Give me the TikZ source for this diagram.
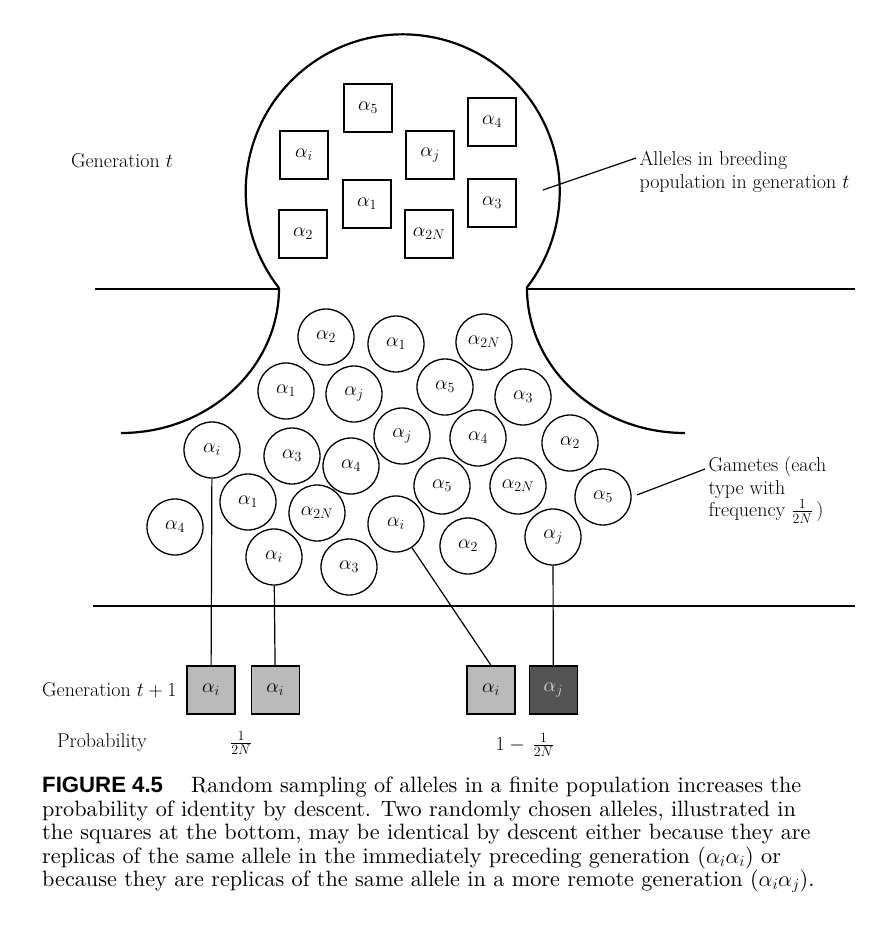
\RequirePackage{fix-cm}
\documentclass[tikz,border=0pt]{standalone}
\usepackage{amsmath}
\usepackage{fontspec}
\usepackage{tikz}
\usetikzlibrary{positioning}
\newfontfamily\figlabelfont{Liberation Sans}
\newfontfamily\captiontext{lmroman10-regular.otf}

\begin{document}
\begin{tikzpicture}
[x=1pt,y=-1pt,
font=\fontsize{20}{22.5}\selectfont,
wall/.style={line width=2.2pt},
rim/.style={line width=1.5pt},
allele/.style={draw, line width=1.3pt, minimum size=48pt, inner sep=0pt},
gamete/.style={draw, circle, line width=1.3pt, minimum size=56pt, inner sep=0pt},
newgen/.style={allele, fill=black!27},
link/.style={line width=1.2pt}]

\useasboundingbox (0,0) rectangle (880,940);

% the breeding population and the gamete pool
\draw[wall] (279,288) arc[start angle=142, end angle=398, radius=157];
\draw[rim] (95,289) -- (279,289);
\draw[rim] (527,289) -- (855,289);
\draw[wall] (279,288) arc[start angle=0, end angle=90, x radius=158, y radius=145];
\draw[wall] (527,288) arc[start angle=180, end angle=90, x radius=158, y radius=145];
\draw[rim] (93,606) -- (855,606);

% alleles in generation t
\node[allele] (s5) at (368,108) {$\alpha_5$};
\node[allele] (si) at (304,155) {$\alpha_i$};
\node[allele] (sj) at (430,155) {$\alpha_j$};
\node[allele] (s4) at (492,122) {$\alpha_4$};
\node[allele] (s1) at (367,204) {$\alpha_1$};
\node[allele] (s3) at (492,203) {$\alpha_3$};
\node[allele] (s2) at (303,234) {$\alpha_2$};
\node[allele] (s2N) at (429,234) {$\alpha_{2N}$};

% gametes
\node[gamete] (g2a) at (326,337) {$\alpha_2$};
\node[gamete] (g1a) at (396,344) {$\alpha_1$};
\node[gamete] (g2Na) at (484,342) {$\alpha_{2N}$};
\node[gamete] (g1b) at (286,391) {$\alpha_1$};
\node[gamete] (gja) at (354,394) {$\alpha_j$};
\node[gamete] (g5a) at (445,387) {$\alpha_5$};
\node[gamete] (g3a) at (523,397) {$\alpha_3$};
\node[gamete] (gjb) at (402,436) {$\alpha_j$};
\node[gamete] (g4a) at (478,438) {$\alpha_4$};
\node[gamete] (gia) at (212,450) {$\alpha_i$};
\node[gamete] (g3b) at (292,456) {$\alpha_3$};
\node[gamete] (g4b) at (351,466) {$\alpha_4$};
\node[gamete] (g2b) at (570,443) {$\alpha_2$};
\node[gamete] (g5b) at (442,486) {$\alpha_5$};
\node[gamete] (g2Nb) at (518,486) {$\alpha_{2N}$};
\node[gamete] (g5c) at (603,497) {$\alpha_5$};
\node[gamete] (g1c) at (248,502) {$\alpha_1$};
\node[gamete] (g2Nc) at (317,513) {$\alpha_{2N}$};
\node[gamete] (gib) at (396,524) {$\alpha_i$};
\node[gamete] (g4c) at (175,527) {$\alpha_4$};
\node[gamete] (gic) at (274,557) {$\alpha_i$};
\node[gamete] (g3c) at (349,567) {$\alpha_3$};
\node[gamete] (g2c) at (468,546) {$\alpha_2$};
\node[gamete] (gjc) at (553,537) {$\alpha_j$};

% generation t+1
\node[newgen] (b1) at (211,690) {$\alpha_i$};
\node[newgen, right=15pt of b1] (b2) {$\alpha_i$};
\node[newgen] (b3) at (491,690) {$\alpha_i$};
\node[newgen, fill=black!67, text=black!15, right=13pt of b3] (b4) {$\alpha_j$};

\draw[link] (gia) -- (b1);
\draw[link] (gic) -- (b2);
\draw[link] (gib) -- (b3.north);
\draw[link] (gjc) -- (b4);

% labels
\node (gent) at (122,161) {Generation $t$};
\node[align=left, anchor=west] (alleles) at (636,172) {Alleles in breeding\\population in generation $t$};
\coordinate (inpop) at (543,190);
\draw[link] (inpop) -- ([yshift=14pt]alleles.west);

\node[align=left, anchor=west] (gametes) at (705,490) {Gametes (each\\type with\\frequency $\frac{1}{2N}$\,)};
\draw[link, shorten <=6pt] (g5c.east) -- ([yshift=21pt]gametes.west);

\node[anchor=east] (gen1) at (180,690) {Generation $t+1$};
\node (prob) at (102,743) {Probability};
\node (p1) at (241,743) {$\frac{1}{2N}$};
\node (p2) at (525,745) {$1-\,\frac{1}{2N}$};

% caption
\node[anchor=north west, align=left, inner sep=0pt,
  font=\captiontext\fontsize{22.2}{23.4}\selectfont] (caption) at (42,777)
  {{\figlabelfont\bfseries FIGURE 4.5}\hspace{28pt}Random sampling of alleles in a finite population increases the\\
   probability of identity by descent. Two randomly chosen alleles, illustrated in\\
   the squares at the bottom, may be identical by descent either because they are\\
   replicas of the same allele in the immediately preceding generation ($\alpha_i\alpha_i$) or\\
   because they are replicas of the same allele in a more remote generation ($\alpha_i\alpha_j$).};
\end{tikzpicture}
\end{document}
